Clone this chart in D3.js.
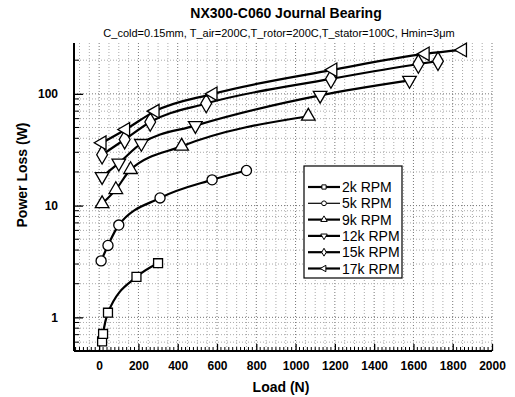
<!doctype html>
<html>
<head>
<meta charset="UTF-8">
<title>NX300-C060 Journal Bearing</title>
<script src="https://cdn.jsdelivr.net/npm/d3@7"></script>
<style>
  body { margin: 0; background: #fff; }
  svg text { font-family: Arial, "Liberation Sans", sans-serif; fill: #000; }
</style>
</head>
<body>
<svg id="chart" width="515" height="397"></svg>
<script>
// load (N), power loss (W)
var names = ['2k RPM', '5k RPM', '9k RPM', '12k RPM', '15k RPM', '17k RPM'];
var rpm2k  = [[15, 0.61], [20, 0.71], [45, 1.1], [190, 2.3], [300, 3.05]];
var rpm5k  = [[10, 3.2], [45, 4.4], [100, 6.7], [310, 11.7], [575, 17], [750, 20.6]];
var rpm9k  = [[15, 10.4], [85, 13.9], [160, 21], [420, 34], [1065, 63]];
var rpm12k = [[15, 18.2], [100, 24], [215, 36], [490, 52], [1125, 97], [1580, 132]];
var rpm15k = [[15, 28.5], [130, 39], [260, 56], [545, 82], [1180, 136], [1625, 185], [1725, 196]];
var rpm17k = [[15, 36.5], [135, 48], [285, 70], [580, 100], [1190, 164], [1660, 228], [1850, 247]];
var xTicks = [0, 200, 400, 600, 800, 1000, 1200, 1400, 1600, 1800, 2000];
var yTicks = [1, 10, 100];

var series = [rpm2k, rpm5k, rpm9k, rpm12k, rpm15k, rpm17k];
// marker shape + rotation per series
var shapes = [
  { t: d3.symbolSquare, r: 0 },
  { t: d3.symbolCircle, r: 0 },
  { t: d3.symbolTriangle, r: 0 },
  { t: d3.symbolTriangle, r: 180 },
  { t: d3.symbolDiamond, r: 0 },
  { t: d3.symbolTriangle, r: -90 }
];

var svg = d3.select('#chart');
var L = 74, R = 492, T = 43, B = 351;

var x = d3.scaleLinear().domain([-128, 2000]).range([L, R]);
var y = d3.scaleLog().domain([0.5, 285]).range([B, T]);

// grid (dotted, grey)
var grid = svg.append('g');
var xMinor = d3.range(-100, 2001, 50);
var yMinor = [];
[0.1, 1, 10, 100].forEach(function (d) {
  for (var k = 1; k < 10; k++) {
    var v = d * k;
    if (v >= 0.5 && v <= 285) yMinor.push(v);
  }
});
grid.selectAll('line.gx').data(xMinor).enter().append('line')
  .attr('x1', function (d) { return x(d); }).attr('x2', function (d) { return x(d); })
  .attr('y1', T).attr('y2', B)
  .attr('stroke', function (d) { return d % 200 === 0 ? '#777' : '#aaa'; })
  .attr('stroke-width', 1).attr('stroke-dasharray', '1,2');
grid.selectAll('line.gy').data(yMinor).enter().append('line')
  .attr('x1', L).attr('x2', R)
  .attr('y1', function (d) { return y(d); }).attr('y2', function (d) { return y(d); })
  .attr('stroke', function (d) { return yTicks.indexOf(d) >= 0 ? '#777' : '#aaa'; })
  .attr('stroke-width', 1).attr('stroke-dasharray', '1,2');

// axes
var xAxis = d3.axisBottom(x).tickValues(xTicks).tickSize(-7).tickPadding(10).tickFormat(d3.format('d'));
var gx = svg.append('g').attr('transform', 'translate(0,' + B + ')').call(xAxis);
gx.select('.domain').attr('d', 'M' + L + ',0H' + R).attr('stroke-width', 2);
gx.selectAll('.tick text').attr('font-size', 12).attr('font-weight', 'bold');
gx.selectAll('.tick line').attr('stroke-width', 1.3);
gx.selectAll('.minor').data(d3.range(-120, 2001, 20).filter(function (d) { return d % 200 !== 0; }))
  .enter().append('line').attr('class', 'minor')
  .attr('x1', function (d) { return x(d); }).attr('x2', function (d) { return x(d); })
  .attr('y1', 0).attr('y2', -4).attr('stroke', '#000');

var yAxis = d3.axisLeft(y).tickValues(yTicks).tickSize(-9).tickPadding(16).tickFormat(d3.format('d'));
var gy = svg.append('g').attr('transform', 'translate(' + L + ',0)').call(yAxis);
gy.select('.domain').attr('d', 'M0,' + T + 'V' + B).attr('stroke-width', 2);
gy.selectAll('.tick text').attr('font-size', 12).attr('font-weight', 'bold');
gy.selectAll('.tick line').attr('stroke-width', 1.3);
gy.selectAll('.minor').data(yMinor.filter(function (d) { return yTicks.indexOf(d) < 0; }))
  .enter().append('line').attr('class', 'minor')
  .attr('x1', 0).attr('x2', 5)
  .attr('y1', function (d) { return y(d); }).attr('y2', function (d) { return y(d); })
  .attr('stroke', '#000');

// lines
var line = d3.line()
  .x(function (d) { return x(d[0]); })
  .y(function (d) { return y(d[1]); })
  .curve(d3.curveMonotoneX);

var plot = svg.append('g');
series.forEach(function (s, i) {
  plot.append('path').datum(s)
    .attr('d', line)
    .attr('fill', 'none').attr('stroke', '#000').attr('stroke-width', 2.2);
  plot.selectAll('path.m' + i).data(s).enter().append('path')
    .attr('class', 'm' + i)
    .attr('d', d3.symbol().type(shapes[i].t).size(i === 4 ? 100 : 80))
    .attr('transform', function (d) {
      return 'translate(' + x(d[0]) + ',' + y(d[1]) + ') rotate(' + shapes[i].r + ')';
    })
    .attr('fill', '#fff').attr('stroke', '#000').attr('stroke-width', 1.3);
});

// legend
var lg = svg.append('g').attr('transform', 'translate(304,166)');
lg.append('rect').attr('width', 98).attr('height', 112)
  .attr('fill', '#fff').attr('stroke', '#000').attr('stroke-width', 1.2);
names.forEach(function (n, i) {
  var yy = 21 + i * 16.3;
  lg.append('line').attr('x1', 4).attr('x2', 36).attr('y1', yy).attr('y2', yy)
    .attr('stroke', '#000').attr('stroke-width', i === 1 ? 1.2 : 2.2);
  lg.append('path')
    .attr('d', d3.symbol().type(shapes[i].t).size(18))
    .attr('transform', 'translate(20,' + yy + ') rotate(' + shapes[i].r + ')')
    .attr('fill', '#fff').attr('stroke', '#000').attr('stroke-width', 1);
  lg.append('text').attr('x', 38).attr('y', yy + 5).attr('font-size', 14).text(n);
});

// titles
svg.append('text').attr('x', 286).attr('y', 18).attr('text-anchor', 'middle')
  .attr('font-size', 14).attr('font-weight', 'bold').text('NX300-C060 Journal Bearing');
svg.append('text').attr('x', 279).attr('y', 37).attr('text-anchor', 'middle')
  .attr('font-size', 11).text('C_cold=0.15mm, T_air=200C,T_rotor=200C,T_stator=100C, Hmin=3\u03bcm');
svg.append('text').attr('x', 281).attr('y', 392).attr('text-anchor', 'middle')
  .attr('font-size', 14).attr('font-weight', 'bold').text('Load (N)');
svg.append('text').attr('transform', 'translate(27,175) rotate(-90)').attr('text-anchor', 'middle')
  .attr('font-size', 14).attr('font-weight', 'bold').text('Power Loss (W)');
</script>
</body>
</html>
